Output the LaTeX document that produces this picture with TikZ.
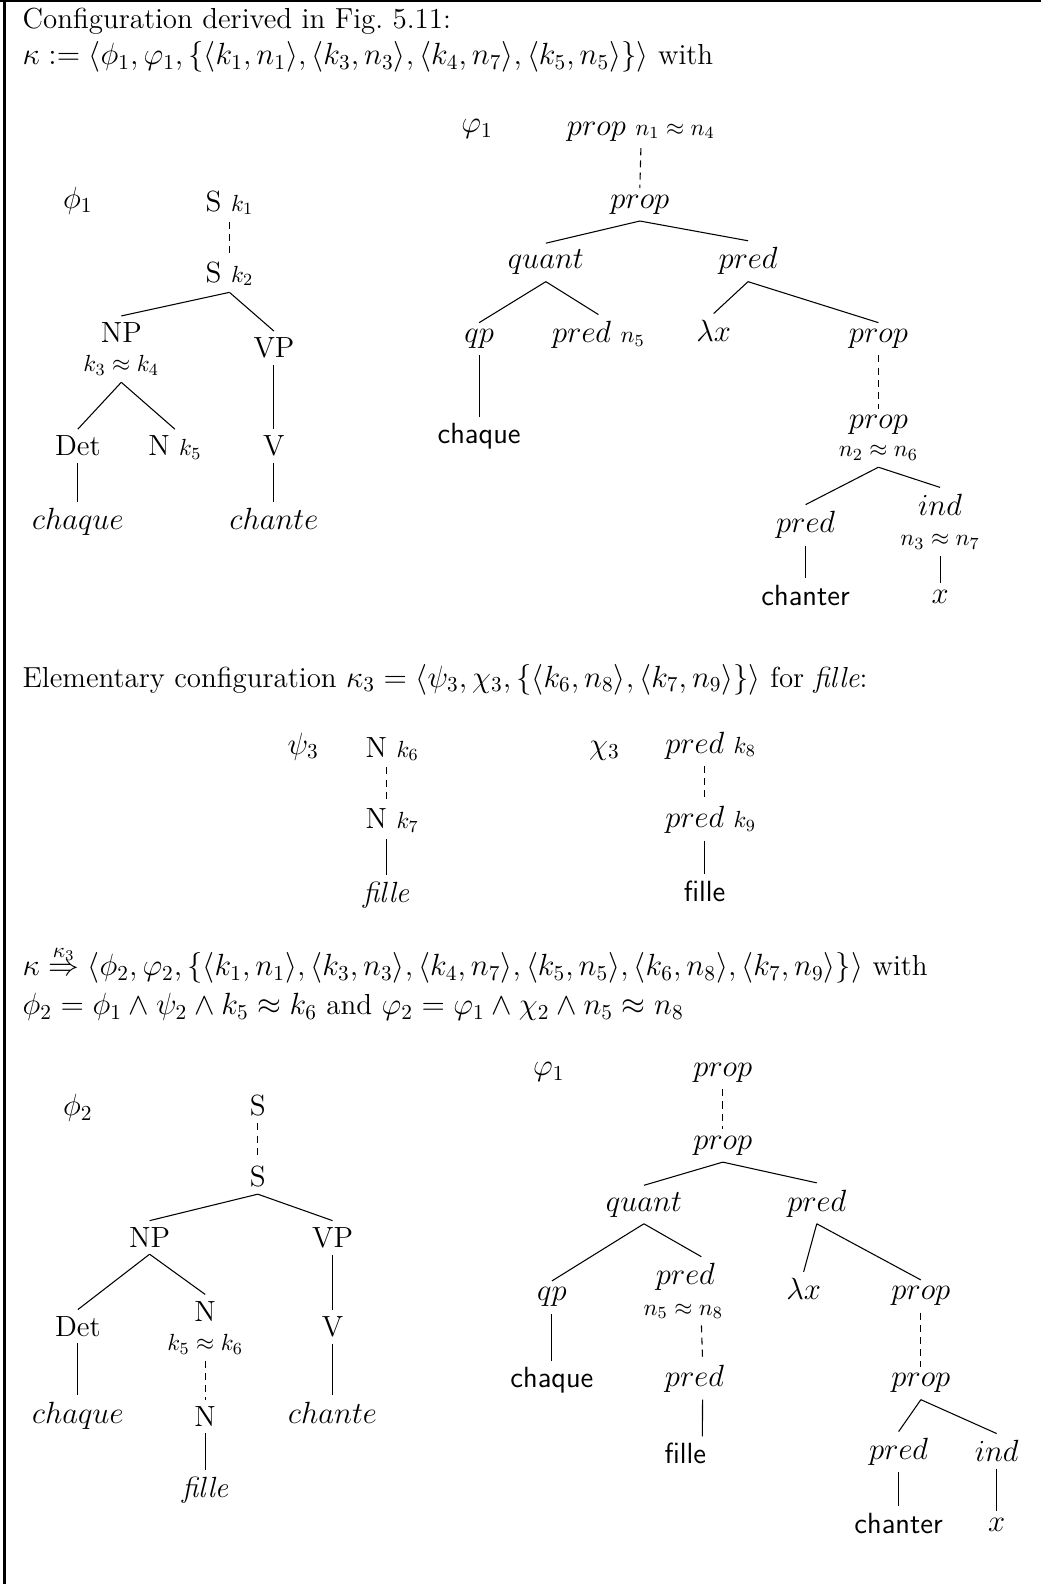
\documentclass[tikz,border=0pt]{standalone}
\usepackage{amsmath}
\newcommand{\smm}[1]{{\fontsize{11.2}{13}\selectfont $#1$}}
\tikzset{
  lab/.style={font=\fontsize{13.7}{16}\selectfont, inner sep=3pt, anchor=base},
  ann/.style={font=\fontsize{11.2}{13}\selectfont, inner sep=3pt, anchor=base},
  txt/.style={anchor=base west, inner sep=0pt, font=\fontsize{13.6}{16}\selectfont},
  edge/.style={line width=0.5pt},
  dedge/.style={line width=0.5pt, dash pattern=on 3.3pt off 2.4pt},
}
\begin{document}
\begin{tikzpicture}[x=0.4745pt, y=-0.4745pt]
\useasboundingbox (0,0) rectangle (1030,1568);
% frame
\draw[line width=1pt] (0,1) -- (1030,1);
\draw[line width=1.4pt] (4.5,0) -- (4.5,1567);

% header
\node[txt] (h1) at (22,28) {Configuration derived in Fig.~5.11:};
\node[txt] (h2) at (22,64) {$\kappa := \langle \phi_1, \varphi_1, \{\langle k_1, n_1\rangle, \langle k_3, n_3\rangle, \langle k_4, n_7\rangle, \langle k_5, n_5\rangle\}\rangle$ with};

% top left tree
\node[lab] (phA) at (77,206) {$\phi_1$};
\node[lab] (s1) at (227,209) {S \smm{k_1}};
\node[lab] (s2) at (227,279) {S \smm{k_2}};
\node[lab] (np) at (120,339) {NP};
\node[ann] (npa) at (120,368) {$k_3 \approx k_4$};
\node[lab] (vp) at (271,354) {VP};
\node[lab] (det) at (77,451) {Det};
\node[lab] (nk) at (173,451) {N \smm{k_5}};
\node[lab] (v) at (271,451) {V};
\node[lab] (chq) at (77,524) {$chaque$};
\node[lab] (cht) at (271,524) {$chante$};
\draw[dedge] (s1.south) -- (s2.north);
\draw[edge] (s2.south) -- (np.north);
\draw[edge] (s2.south) -- (vp.north);
\draw[edge] (npa.south) -- (det.north);
\draw[edge] (npa.south) -- (nk.north);
\draw[edge] (vp.south) -- (v.north);
\draw[edge] (det.south) -- (chq.north);
\draw[edge] (v.south) -- (cht.north);

% top right tree
\node[lab] (vpA) at (472,131) {$\varphi_1$};
\node[lab] (p1) at (634,134) {$prop$ \smm{n_1 \approx n_4}};
\node[lab] (p2) at (633,206) {$prop$};
\node[lab] (qu) at (540,266) {$quant$};
\node[lab] (pr) at (740,266) {$pred$};
\node[lab] (qp) at (474,339) {$qp$};
\node[lab] (prn) at (592,339) {$pred$ \smm{n_5}};
\node[lab] (lx) at (706,338) {$\lambda x$};
\node[lab] (p3) at (869,339) {$prop$};
\node[lab] (chq2) at (474,439) {\sffamily chaque};
\node[lab] (p4) at (869,424) {$prop$};
\node[ann] (p4a) at (869,452) {$n_2 \approx n_6$};
\node[lab] (ind) at (930,510) {$ind$};
\node[ann] (inda) at (930,540) {$n_3 \approx n_7$};
\node[lab] (pr2) at (797,527) {$pred$};
\node[lab] (chr) at (797,599) {\sffamily chanter};
\node[lab] (x1) at (930,597) {$x$};
\draw[dedge] (p1.south) -- (p2.north);
\draw[edge] (p2.south) -- (qu.north);
\draw[edge] (p2.south) -- (pr.north);
\draw[edge] (qu.south) -- (qp.north);
\draw[edge] (qu.south) -- (prn.north);
\draw[edge] (qp.south) -- (chq2.north);
\draw[edge] (pr.south) -- (lx.north);
\draw[edge] (pr.south) -- (p3.north);
\draw[dedge] (p3.south) -- (p4.north);
\draw[edge] (p4a.south) -- (pr2.north);
\draw[edge] (p4a.south) -- (ind.north);
\draw[edge] (pr2.south) -- (chr.north);
\draw[edge] (inda.south) -- (x1.north);

% middle
\node[txt] (h3) at (22,680) {Elementary configuration $\kappa_3 = \langle \psi_3, \chi_3, \{\langle k_6, n_8\rangle, \langle k_7, n_9\rangle\}\rangle$ for \textit{fille}:};
\node[lab] (psi) at (300,746) {$\psi_3$};
\node[lab] (n6) at (388,749) {N \smm{k_6}};
\node[lab] (n7) at (388,820) {N \smm{k_7}};
\node[lab] (fi1) at (382,893) {\textit{fille}};
\node[lab] (chi) at (598,746) {$\chi_3$};
\node[lab] (pk8) at (703,745) {$pred$ \smm{k_8}};
\node[lab] (pk9) at (703,819) {$pred$ \smm{k_9}};
\node[lab] (fi2) at (697,892) {\sffamily fille};
\draw[dedge] (fi1.north |- n6.south) -- (fi1.north |- n7.north);
\draw[edge] (fi1.north |- n7.south) -- (fi1.north);
\draw[dedge] (fi2.north |- pk8.south) -- (fi2.north |- pk9.north);
\draw[edge] (fi2.north |- pk9.south) -- (fi2.north);

% bottom text
\node[txt] (h4) at (22,965) {$\kappa \stackrel{\kappa_3}{\Rightarrow} \langle \phi_2, \varphi_2, \{\langle k_1, n_1\rangle, \langle k_3, n_3\rangle, \langle k_4, n_7\rangle, \langle k_5, n_5\rangle, \langle k_6, n_8\rangle, \langle k_7, n_9\rangle\}\rangle$ with};
\node[txt] (h5) at (22,1004) {$\phi_2 = \phi_1 \wedge \psi_2 \wedge k_5 \approx k_6$ and $\varphi_2 = \varphi_1 \wedge \chi_2 \wedge n_5 \approx n_8$};

% bottom left tree
\node[lab] (phB) at (77,1104) {$\phi_2$};
\node[lab] (bs1) at (255,1104) {S};
\node[lab] (bs2) at (255,1174) {S};
\node[lab] (bnp) at (148,1234) {NP};
\node[lab] (bvp) at (329,1234) {VP};
\node[lab] (bdet) at (77,1322) {Det};
\node[lab] (bn) at (203,1307) {N};
\node[ann] (bna) at (203,1336) {$k_5 \approx k_6$};
\node[lab] (bv) at (329,1322) {V};
\node[lab] (bchq) at (77,1408) {$chaque$};
\node[lab] (bn2) at (203,1411) {N};
\node[lab] (bcht) at (329,1408) {$chante$};
\node[lab] (bfi) at (203,1481) {\textit{fille}};
\draw[dedge] (bs1.south) -- (bs2.north);
\draw[edge] (bs2.south) -- (bnp.north);
\draw[edge] (bs2.south) -- (bvp.north);
\draw[edge] (bnp.south) -- (bdet.north);
\draw[edge] (bnp.south) -- (bn.north);
\draw[edge] (bvp.south) -- (bv.north);
\draw[edge] (bdet.south) -- (bchq.north);
\draw[dedge] (bna.south) -- (bn2.north);
\draw[edge] (bn2.south) -- (bfi.north);
\draw[edge] (bv.south) -- (bcht.north);

% bottom right tree
\node[lab] (vpB) at (543,1064) {$\varphi_1$};
\node[lab] (bp1) at (715,1065) {$prop$};
\node[lab] (bp2) at (715,1137) {$prop$};
\node[lab] (bqu) at (637,1198) {$quant$};
\node[lab] (bpr) at (808,1198) {$pred$};
\node[lab] (bqp) at (546,1287) {$qp$};
\node[lab] (bpr2) at (678,1271) {$pred$};
\node[ann] (bpr2a) at (676,1301) {$n_5 \approx n_8$};
\node[lab] (blx) at (795,1286) {$\lambda x$};
\node[lab] (bp3) at (911,1286) {$prop$};
\node[lab] (bchq2) at (546,1373) {\sffamily chaque};
\node[lab] (bpr3) at (687,1372) {$pred$};
\node[lab] (bfi2) at (678,1448) {\sffamily fille};
\node[lab] (bp4) at (911,1372) {$prop$};
\node[lab] (bpr4) at (889,1444) {$pred$};
\node[lab] (bind) at (986,1446) {$ind$};
\node[lab] (bchr) at (889,1517) {\sffamily chanter};
\node[lab] (bx) at (986,1515) {$x$};
\draw[dedge] (bp1.south) -- (bp2.north);
\draw[edge] (bp2.south) -- (bqu.north);
\draw[edge] (bp2.south) -- (bpr.north);
\draw[edge] (bqu.south) -- (bqp.north);
\draw[edge] (bqu.south) -- ([xshift=7.5pt]bpr2.north);
\draw[edge] (bqp.south) -- (bchq2.north);
\draw[dedge] ([xshift=8.5pt]bpr2a.south) -- ([xshift=3.8pt]bpr3.north);
\draw[edge] ([xshift=3.8pt]bpr3.south) -- ([xshift=8pt]bfi2.north);
\draw[edge] (bpr.south) -- (blx.north);
\draw[edge] (bpr.south) -- (bp3.north);
\draw[dedge] (bp3.south) -- (bp4.north);
\draw[edge] (bp4.south) -- (bpr4.north);
\draw[edge] (bp4.south) -- (bind.north);
\draw[edge] (bpr4.south) -- (bchr.north);
\draw[edge] (bind.south) -- (bx.north);
\end{tikzpicture}
\end{document}
